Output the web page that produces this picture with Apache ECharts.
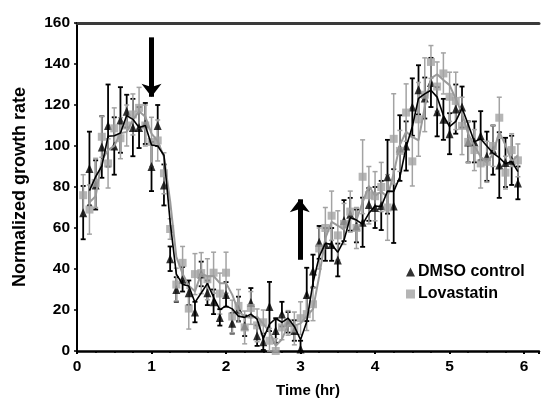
<!DOCTYPE html>
<html>
<head>
<meta charset="utf-8">
<script src="https://cdn.jsdelivr.net/npm/echarts@6/dist/echarts.min.js"></script>
<style>html,body{margin:0;padding:0;background:#fff}#c{width:542px;height:403px}</style>
</head>
<body>
<div id="c"></div>
<script>
// Time points (hr)
const timeHr = [0.083,0.167,0.25,0.333,0.417,0.5,0.583,0.667,0.75,0.833,0.917,1.0,
  1.083,1.167,1.25,1.333,1.417,1.5,1.583,1.667,1.75,1.833,1.917,2.0,
  2.083,2.167,2.25,2.333,2.417,2.5,2.583,2.667,2.75,2.833,2.917,3.0,
  3.083,3.167,3.25,3.333,3.417,3.5,3.583,3.667,3.75,3.833,3.917,4.0,
  4.083,4.167,4.25,4.333,4.417,4.5,4.583,4.667,4.75,4.833,4.917,5.0,
  5.083,5.167,5.25,5.333,5.417,5.5,5.583,5.667,5.75,5.833,5.917];
// DMSO control
const dmsoValues = [67.5,89,81,99.5,110,100,112.7,117,109,109,111,90,
  110,81,45,30,35,28.4,19,37.6,28.4,24,16.4,27.6,
  13.5,20.5,12.3,23.7,7.5,4.5,21.7,10,18,14,10,1,
  27.6,39,53,52,52,44.4,63.6,66.7,61,62.8,71.5,70,
  71,85,70.7,99,100,119,127.4,123.4,131,116.7,113,106,
  118,119,102,102,105,95,98,90.7,92,93,82];
const dmsoErr = [13,18,12,15,20,14,16,8,14,10,10,12,10,10,6,6,6,6,5,6,6,6,4,6,5,6,5,7,5,4,12,6,6,5,5,4,13,8,8,8,8,8,10,8,8,12,8,10,12,18,18,16,12,14,12,10,12,12,10,10,12,10,10,10,12,12,12,16,12,12,8];
// Lovastatin
const lovaValues = [76,69,82,104.5,91.5,108.6,103.8,110,115.4,118.6,110,102,
  102.7,86.7,59.5,32.4,43,20.7,37.5,38,35,38.2,28,38.2,
  16.8,22,11.5,21,12.5,14,5,0,11.5,13.7,11,16,
  18,22.8,50,60,66,56.4,62,68,60,85,76,75.5,
  80,70,103.5,97.6,116.3,92.5,113,125,141,129,135.4,124,
  122,109.8,102,98,91.5,92.3,100,113.8,87,98,93];
const lovaErr = [10,12,12,10,12,10,10,10,10,10,10,12,10,10,5,8,8,10,10,10,10,10,10,10,8,8,8,8,8,6,6,6,6,6,8,8,8,8,10,10,12,12,10,10,10,18,14,12,12,16,22,10,14,12,18,18,8,12,10,12,14,14,10,10,12,10,10,10,8,8,8];
// Arrows (hr, value)
const arrowDown = [[1.0,153],[1.0,124]];
const arrowUp = [[2.99,44.5],[2.99,74]];

const BLACK = '#000';
const GRAY = '#a3a3a3';
const FONT = 'Liberation Sans, Arial, sans-serif';

function pts(vals){ return vals.map((v,i)=>[timeHr[i], v]); }
// Excel style 2-period moving average trendline
function movingAvg(vals){
  const out=[];
  for(let i=1;i<vals.length;i++) out.push([timeHr[i], (vals[i-1]+vals[i])/2]);
  return out;
}
function errSeries(name, vals, errs, color, width){
  return {
    type:'custom', name:name, z:2, silent:true,
    renderItem:function(params, api){
      const x=api.value(0), lo=api.value(1), hi=api.value(2);
      const a=api.coord([x,hi]), b=api.coord([x,lo]);
      const cap=2.5;
      const st={stroke:color, lineWidth:width};
      return {type:'group', children:[
        {type:'line', shape:{x1:a[0],y1:a[1],x2:b[0],y2:b[1]}, style:st},
        {type:'line', shape:{x1:a[0]-cap,y1:a[1],x2:a[0]+cap,y2:a[1]}, style:st},
        {type:'line', shape:{x1:b[0]-cap,y1:b[1],x2:b[0]+cap,y2:b[1]}, style:st}
      ]};
    },
    encode:{x:0, y:[1,2]},
    data: vals.map((v,i)=>[timeHr[i], Math.max(0, v-errs[i]), v+errs[i]])
  };
}

const chart = echarts.init(document.getElementById('c'), null, {renderer:'canvas'});
chart.setOption({
  animation:false,
  backgroundColor:'#fff',
  grid:{left:77, top:23, right:0, bottom:47, containLabel:false},
  xAxis:[{
    type:'value', min:0, max:6.2, interval:1,
    name:'Time (hr)', nameLocation:'middle', nameGap:32,
    nameTextStyle:{fontFamily:FONT, fontWeight:'bold', fontSize:15, color:'#000'},
    axisLine:{show:true, onZero:false, lineStyle:{color:'#000', width:2.5}},
    axisTick:{show:true, length:3, lineStyle:{color:'#000', width:2}},
    minorTick:{show:true, splitNumber:4, length:2, lineStyle:{color:'#000', width:1.5}},
    axisLabel:{fontFamily:FONT, fontWeight:'bold', fontSize:15.5, color:'#000', margin:8,
      formatter:function(v){ return Number.isInteger(v) ? String(v) : ''; }},
    splitLine:{show:false}
  },{
    type:'value', min:0, max:6.2, position:'top',
    axisLine:{show:true, onZero:false, lineStyle:{color:'#3a3a3a', width:3}},
    axisTick:{show:false}, axisLabel:{show:false}, splitLine:{show:false}
  }],
  yAxis:{
    type:'value', min:0, max:160, interval:20,
    name:'Normalized growth rate', nameLocation:'middle', nameGap:48,
    nameTextStyle:{fontFamily:FONT, fontWeight:'bold', fontSize:18, color:'#000'},
    axisLine:{show:true, lineStyle:{color:'#000', width:2}},
    axisTick:{show:true, length:3, lineStyle:{color:'#000', width:1.5}},
    axisLabel:{fontFamily:FONT, fontWeight:'bold', fontSize:15.5, color:'#000', margin:7},
    splitLine:{show:false}
  },
  legend:{
    orient:'vertical', left:401, top:259, itemWidth:9, itemHeight:9, itemGap:6,
    textStyle:{fontFamily:FONT, fontWeight:'bold', fontSize:16, color:'#000', padding:[0,0,0,-2]},
    data:[{name:'DMSO control', icon:'triangle'},{name:'Lovastatin', icon:'rect'}]
  },
  series:[
    errSeries('dmsoErr', dmsoValues, dmsoErr, BLACK, 1.8),
    {type:'scatter', name:'DMSO control', symbol:'triangle', symbolSize:[8,9], z:3,
      itemStyle:{color:BLACK}, data:pts(dmsoValues)},
    errSeries('lovaErr', lovaValues, lovaErr, GRAY, 1.5),
    {type:'scatter', name:'Lovastatin', symbol:'rect', symbolSize:8, z:4,
      itemStyle:{color:GRAY}, data:pts(lovaValues)},
    {type:'line', name:'lovaTrend', showSymbol:false, symbol:'none', z:5,
      lineStyle:{color:'#9a9a9a', width:2}, data:movingAvg(lovaValues)},
    {type:'line', name:'dmsoTrend', showSymbol:false, symbol:'none', z:6,
      lineStyle:{color:BLACK, width:1.6}, data:movingAvg(dmsoValues),
      markLine:{silent:true, symbol:['none','arrow'], symbolSize:[15,13],
        label:{show:false},
        lineStyle:{color:BLACK, width:5, type:'solid'},
        emphasis:{disabled:true},
        data:[
          [{coord:arrowDown[0]},{coord:arrowDown[1]}],
          [{coord:arrowUp[0]},{coord:arrowUp[1]}]
        ]}
    }
  ]
});
</script>
</body>
</html>
